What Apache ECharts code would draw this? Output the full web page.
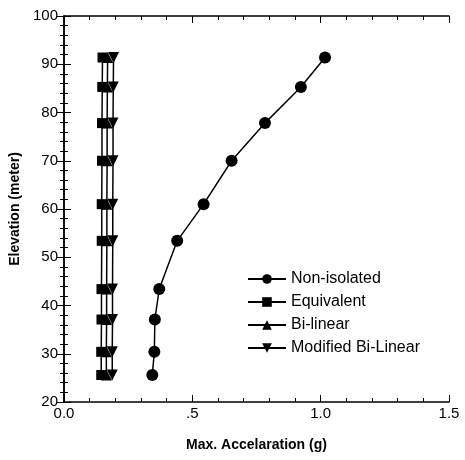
<!DOCTYPE html>
<html><head><meta charset="utf-8">
<script src="https://cdn.jsdelivr.net/npm/echarts@6/dist/echarts.min.js"></script>
<style>html,body{margin:0;padding:0;background:#fff}#c{width:465px;height:460px}</style>
</head><body><div id="c"></div>
<script>
const elevation = [25.6, 30.4, 37.1, 43.4, 53.4, 61.0, 70.0, 77.8, 85.3, 91.4];
const nonIsolated = [0.344, 0.352, 0.354, 0.371, 0.441, 0.544, 0.653, 0.783, 0.923, 1.017];
const equivalent = [0.145, 0.145, 0.146, 0.146, 0.147, 0.147, 0.148, 0.148, 0.149, 0.150];
const biLinear = [0.165, 0.165, 0.166, 0.166, 0.167, 0.167, 0.168, 0.168, 0.169, 0.170];
const modifiedBiLinear = [0.188, 0.188, 0.189, 0.189, 0.190, 0.190, 0.191, 0.191, 0.192, 0.193];
const xTickLabels = {0: '0.0', 0.5: '.5', 1: '1.0', 1.5: '1.5'};
const seriesNames = ['Non-isolated', 'Equivalent', 'Bi-linear', 'Modified Bi-Linear'];

const font = 'Liberation Sans, Arial, sans-serif';
const pair = (xs) => xs.map((x, i) => [x, elevation[i]]);
const axisCommon = {
  axisLine: {show: true, lineStyle: {color: '#000', width: 1.5}},
  axisTick: {show: true, inside: true, length: 7, lineStyle: {color: '#000', width: 1}},
  minorTick: {show: true, splitNumber: 5, length: 4, lineStyle: {color: '#000', width: 1}},
  splitLine: {show: false}
};
const downTri = 'path://M0,0 L10,0 L5,9 Z';
const mk = (name, data, symbol, size) => ({
  name, type: 'line', data: pair(data), symbol, symbolSize: size,
  itemStyle: {color: '#000'}, lineStyle: {color: '#000', width: 1.5}, animation: false
});
const chart = echarts.init(document.getElementById('c'));
chart.setOption({
  animation: false,
  grid: {left: 64, right: 16, top: 16, bottom: 58},
  xAxis: [
    Object.assign({type: 'value', min: 0, max: 1.5, interval: 0.5, position: 'bottom',
      axisLabel: {color: '#000', fontFamily: font, fontSize: 15, margin: 4,
        formatter: v => xTickLabels[v] !== undefined ? xTickLabels[v] : ''},
      name: 'Max. Accelaration (g)', nameLocation: 'middle', nameGap: 36,
      nameTextStyle: {color: '#000', fontFamily: font, fontSize: 14, fontWeight: 'bold'}}, axisCommon),
    Object.assign({type: 'value', min: 0, max: 1.5, interval: 0.5, position: 'top', axisLabel: {show: false}}, axisCommon)
  ],
  yAxis: [
    Object.assign({type: 'value', min: 20, max: 100, interval: 10, position: 'left',
      axisLabel: {color: '#000', fontFamily: font, fontSize: 15, margin: 6},
      name: 'Elevation (meter)', nameLocation: 'middle', nameGap: 36, nameRotate: 90,
      nameTextStyle: {color: '#000', fontFamily: font, fontSize: 14, fontWeight: 'bold'}}, axisCommon),
    Object.assign({type: 'value', min: 20, max: 100, interval: 10, position: 'right', axisLabel: {show: false}}, axisCommon)
  ],
  legend: {
    orient: 'vertical', left: 242, top: 266, itemWidth: 38, itemHeight: 12, itemGap: 7,
    textStyle: {color: '#000', fontFamily: font, fontSize: 16},
    data: seriesNames
  },
  series: [
    mk(seriesNames[0], nonIsolated, 'circle', 12),
    mk(seriesNames[1], equivalent, 'rect', 10),
    mk(seriesNames[2], biLinear, 'triangle', 11),
    mk(seriesNames[3], modifiedBiLinear, downTri, 11)
  ]
});
</script></body></html>
